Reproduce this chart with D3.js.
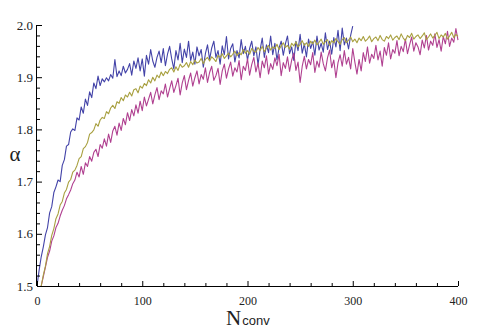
<!DOCTYPE html>
<html>
<head>
<meta charset="utf-8">
<script src="https://cdn.jsdelivr.net/npm/d3@7"></script>
<style>
  body { margin: 0; background: #fff; }
  svg { display: block; }
</style>
</head>
<body>
<svg id="chart"></svg>
<script>
// sampling of each run: first N_conv and step between points
const step = 2;
const blueStart = 0;
const oliveStart = 4;
const magentaStart = 4;

const blueAlpha = [
  1.500,1.530,1.556,1.575,1.598,1.612,1.640,1.652,1.679,1.690,
  1.703,1.700,1.731,1.742,1.768,1.771,1.795,1.801,1.798,1.822,
  1.818,1.843,1.831,1.858,1.846,1.872,1.861,1.889,1.878,1.902,
  1.884,1.897,1.891,1.899,1.893,1.905,1.898,1.934,1.901,1.912,
  1.903,1.921,1.908,1.915,1.926,1.904,1.931,1.917,1.937,1.912,
  1.935,1.902,1.942,1.925,1.953,1.931,1.919,1.938,1.950,1.928,
  1.955,1.922,1.944,1.959,1.935,1.916,1.951,1.933,1.965,1.928,
  1.954,1.938,1.969,1.932,1.948,1.925,1.958,1.941,1.953,1.919,
  1.945,1.962,1.934,1.956,1.969,1.938,1.951,1.925,1.960,1.943,
  1.978,1.935,1.955,1.964,1.929,1.951,1.937,1.972,1.945,1.959,
  1.933,1.955,1.969,1.941,1.958,1.924,1.953,1.975,1.938,1.962,
  1.947,1.979,1.943,1.965,1.933,1.956,1.969,1.942,1.964,1.979,
  1.945,1.958,1.932,1.969,1.951,1.982,1.946,1.964,1.939,1.973,
  1.955,1.968,1.942,1.979,1.952,1.965,1.948,1.985,1.953,1.969,
  1.944,1.976,1.958,1.990,1.951,1.994,1.962,1.975,1.954,1.980,
  1.998
];

const oliveAlpha = [
  1.500,1.521,1.538,1.562,1.576,1.597,1.610,1.629,1.638,1.655,
  1.662,1.678,1.685,1.699,1.704,1.718,1.722,1.731,1.744,1.748,
  1.763,1.767,1.775,1.791,1.794,1.799,1.811,1.806,1.818,1.823,
  1.821,1.834,1.830,1.841,1.846,1.840,1.853,1.850,1.861,1.855,
  1.866,1.862,1.871,1.864,1.876,1.878,1.870,1.883,1.879,1.888,
  1.884,1.895,1.889,1.900,1.893,1.904,1.899,1.910,1.903,1.911,
  1.907,1.915,1.918,1.910,1.920,1.913,1.925,1.919,1.922,1.928,
  1.919,1.930,1.924,1.933,1.927,1.929,1.936,1.926,1.934,1.938,
  1.931,1.939,1.935,1.930,1.942,1.938,1.945,1.936,1.941,1.946,
  1.939,1.944,1.950,1.941,1.947,1.943,1.953,1.946,1.951,1.944,
  1.955,1.950,1.948,1.957,1.951,1.959,1.949,1.956,1.961,1.952,
  1.958,1.955,1.963,1.953,1.960,1.966,1.957,1.961,1.954,1.965,
  1.960,1.968,1.958,1.963,1.970,1.961,1.966,1.959,1.969,1.964,
  1.971,1.962,1.967,1.973,1.963,1.968,1.972,1.961,1.970,1.966,
  1.974,1.968,1.963,1.972,1.976,1.966,1.971,1.977,1.968,1.973,
  1.966,1.975,1.970,1.978,1.969,1.973,1.979,1.968,1.974,1.977,
  1.970,1.980,1.972,1.969,1.978,1.974,1.981,1.971,1.976,1.979,
  1.972,1.983,1.975,1.970,1.980,1.976,1.984,1.973,1.978,1.981,
  1.974,1.979,1.985,1.972,1.977,1.983,1.975,1.980,1.986,1.974,
  1.981,1.977,1.984,1.973,1.979,1.986,1.976,1.982,1.978
];

const magentaAlpha = [
  1.500,1.518,1.536,1.555,1.567,1.586,1.596,1.612,1.620,1.634,
  1.645,1.654,1.667,1.675,1.684,1.696,1.703,1.718,1.709,1.729,
  1.714,1.736,1.729,1.748,1.739,1.756,1.762,1.748,1.771,1.764,
  1.782,1.768,1.791,1.775,1.797,1.806,1.789,1.812,1.798,1.821,
  1.809,1.832,1.817,1.838,1.826,1.847,1.831,1.854,1.836,1.862,
  1.845,1.858,1.871,1.849,1.866,1.880,1.857,1.874,1.868,1.887,
  1.862,1.878,1.893,1.871,1.884,1.898,1.866,1.889,1.903,1.876,
  1.894,1.908,1.883,1.899,1.912,1.887,1.905,1.896,1.918,1.890,
  1.909,1.921,1.894,1.903,1.917,1.886,1.912,1.925,1.898,1.916,
  1.929,1.902,1.918,1.910,1.932,1.895,1.921,1.913,1.935,1.904,
  1.924,1.938,1.910,1.927,1.899,1.931,1.918,1.941,1.906,1.926,
  1.915,1.937,1.922,1.944,1.903,1.928,1.917,1.939,1.911,1.933,
  1.946,1.913,1.929,1.890,1.921,1.940,1.916,1.934,1.924,1.947,
  1.909,1.931,1.919,1.948,1.926,1.912,1.937,1.952,1.918,1.933,
  1.899,1.928,1.943,1.921,1.951,1.925,1.938,1.916,1.955,1.929,
  1.906,1.934,1.912,1.947,1.930,1.958,1.927,1.944,1.936,1.961,
  1.933,1.950,1.921,1.957,1.942,1.966,1.935,1.953,1.946,1.970,
  1.941,1.959,1.949,1.973,1.945,1.962,1.977,1.950,1.966,1.958,
  1.943,1.971,1.956,1.980,1.952,1.969,1.961,1.983,1.957,1.972,
  1.950,1.978,1.964,1.988,1.959,1.975,1.967,1.993,1.971
];

const xTicks = [0, 100, 200, 300, 400];
const yTicks = [1.5, 1.6, 1.7, 1.8, 1.9, 2.0];

{
    const W = 494, H = 335;
    const margin = {top: 25, right: 36, bottom: 49, left: 37},
        width = W - margin.left - margin.right,
        height = H - margin.top - margin.bottom;

    const x = d3.scaleLinear().domain([0, 400]).range([0, width]);
    const y = d3.scaleLinear().domain([1.5, 2.0]).range([height, 0]);

    const svg = d3.select("#chart")
        .attr("width", W)
        .attr("height", H);

    const chart = svg.append("g")
        .attr("transform", `translate(${margin.left}, ${margin.top})`);

    const series = [
        {values: blueAlpha, start: blueStart, color: "#4343a8"},
        {values: magentaAlpha, start: magentaStart, color: "#b04090"},
        {values: oliveAlpha, start: oliveStart, color: "#a8a040"}
    ];

    const line = d3.line()
        .x(d => x(d[0]))
        .y(d => y(d[1]));

    chart.selectAll("path.run")
        .data(series)
        .enter()
            .append("path")
            .attr("class", "run")
            .attr("fill", "none")
            .attr("stroke", d => d.color)
            .attr("stroke-width", 1.1)
            .attr("stroke-linejoin", "round")
            .attr("d", d => line(d.values.map((v, i) => [d.start + i * step, v])));

    // minor ticks (inward, Mathematica style)
    chart.append("g")
        .attr("transform", `translate(0, ${height})`)
        .call(d3.axisBottom(x).tickValues(d3.range(20, 400, 20).filter(v => v % 100)).tickSize(-3).tickFormat(""))
        .call(g => g.select(".domain").remove());
    chart.append("g")
        .call(d3.axisLeft(y).tickValues(d3.range(1.52, 2.0, 0.02).filter(v => Math.abs(v * 10 - Math.round(v * 10)) > 0.01)).tickSize(-3).tickFormat(""))
        .call(g => g.select(".domain").remove());

    const xAxis = chart.append("g")
        .attr("transform", `translate(0, ${height})`)
        .call(d3.axisBottom(x).tickValues(xTicks).tickSize(-5).tickPadding(10).tickFormat(d3.format("d")));
    xAxis.select(".domain").attr("d", `M0,0.5H${width}`);
    xAxis.selectAll("text")
        .attr("font-family", "'Liberation Serif', 'Times New Roman', serif")
        .attr("font-size", 12)
        .attr("fill", "#222");

    const yAxis = chart.append("g")
        .call(d3.axisLeft(y).tickValues(yTicks).tickSize(-5).tickPadding(4).tickFormat(d3.format(".1f")));
    yAxis.select(".domain").attr("d", `M-0.5,0V${height}`);
    yAxis.selectAll("text")
        .attr("font-family", "'Liberation Serif', 'Times New Roman', serif")
        .attr("font-size", 13)
        .attr("fill", "#222");

    chart.selectAll(".tick line").attr("stroke", "#000");
    chart.selectAll(".domain").attr("stroke", "#000");

    svg.append("text")
        .attr("x", 15)
        .attr("y", 161)
        .attr("text-anchor", "middle")
        .attr("font-family", "'Liberation Serif', 'Times New Roman', serif")
        .attr("font-size", 21)
        .attr("fill", "#222")
        .text("α");

    const xLabel = svg.append("text")
        .attr("x", 226)
        .attr("y", 325)
        .attr("fill", "#222");
    xLabel.append("tspan")
        .attr("font-family", "'Liberation Serif', 'Times New Roman', serif")
        .attr("font-size", 21)
        .text("N");
    xLabel.append("tspan")
        .attr("font-family", "'Liberation Sans', Arial, sans-serif")
        .attr("font-size", 13)
        .attr("dx", 1)
        .text("conv");
}
</script>
</body>
</html>
